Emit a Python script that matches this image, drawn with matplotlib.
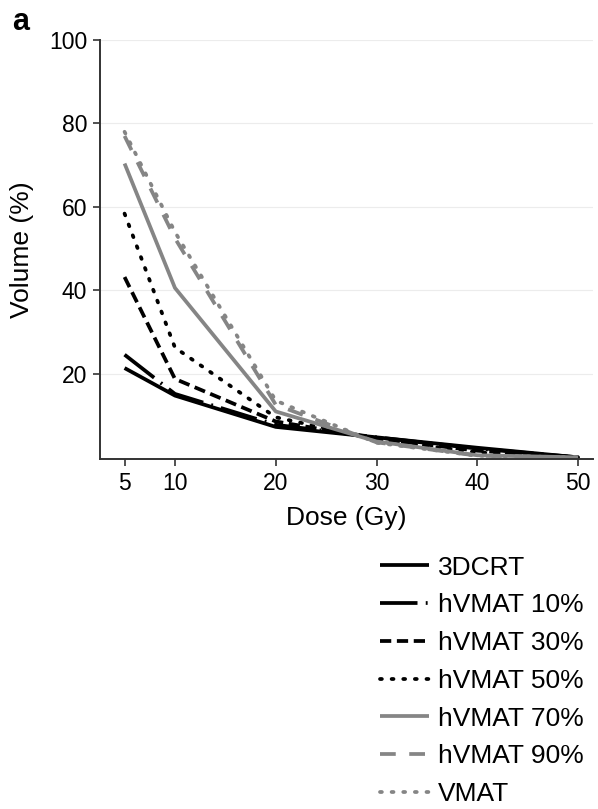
import matplotlib.pyplot as plt

plt.rcParams['font.family'] = ['Liberation Sans', 'DejaVu Sans']

dose = [5, 10, 20, 30, 40, 50]
crt3d = [21.4, 14.8, 7.3, 4.8, 2.3, 0.0]
hvmat10 = [24.6, 15.2, 7.8, 4.8, 2.1, 0.0]
hvmat30 = [43.2, 18.8, 8.6, 4.5, 1.6, 0.0]
hvmat50 = [58.4, 26.3, 9.6, 4.3, 1.2, 0.0]
hvmat70 = [70.4, 40.6, 11.0, 3.8, 0.5, 0.0]
hvmat90 = [77.0, 52.5, 12.6, 3.6, 0.4, 0.0]
vmat = [78.0, 54.0, 13.6, 3.5, 0.4, 0.0]

labels = ['3DCRT', 'hVMAT 10%', 'hVMAT 30%', 'hVMAT 50%',
          'hVMAT 70%', 'hVMAT 90%', 'VMAT']
series = [crt3d, hvmat10, hvmat30, hvmat50, hvmat70, hvmat90, vmat]

black = '#000000'
gray = '#858585'
# colour, linestyle, capstyle
styles = [
    (black, '-', 'butt'),
    (black, (0, (10, 2.2, 0.5, 2.2)), 'butt'),
    (black, (0, (3, 1.5)), 'butt'),
    (black, (0, (0.5, 2.6)), 'round'),
    (gray, '-', 'butt'),
    (gray, (0, (4.2, 3.6)), 'butt'),
    (gray, (0, (0.5, 2.6)), 'round'),
]

fig = plt.figure(figsize=(5.98, 8.09), dpi=100)
ax = fig.add_axes([0.167, 0.4326, 0.825, 0.518])

for vals, lab, (col, ls, cap) in zip(series, labels, styles):
    ax.plot(dose, vals, color=col, linestyle=ls, linewidth=2.7,
            label=lab, dash_capstyle=cap, solid_capstyle='butt')

ax.set_xlim(2.55, 51.5)
ax.set_ylim(-0.4, 100)
ax.set_xticks(dose)
ax.set_yticks([20, 40, 60, 80, 100])
ax.yaxis.grid(True, color='#ececec', linewidth=0.8)
ax.set_axisbelow(True)

for s in ['top', 'right']:
    ax.spines[s].set_visible(False)
for s in ['left', 'bottom']:
    ax.spines[s].set_color('#333333')
    ax.spines[s].set_linewidth(1.4)
ax.tick_params(axis='both', direction='out', length=5, width=1.2,
               color='#333333', labelsize=16.5, pad=4)

ax.set_xlabel('Dose (Gy)', fontsize=19, labelpad=8)
ax.set_ylabel('Volume (%)', fontsize=19, labelpad=11)

fig.text(0.02, 0.963, 'a', fontsize=22, fontweight='bold')

leg = fig.legend(loc='upper left', bbox_to_anchor=(0.605, 0.336),
                 frameon=False, fontsize=19, handlelength=1.85,
                 handletextpad=0.35, labelspacing=0.52,
                 borderpad=0.2)

fig.savefig('out.png', dpi=100)
